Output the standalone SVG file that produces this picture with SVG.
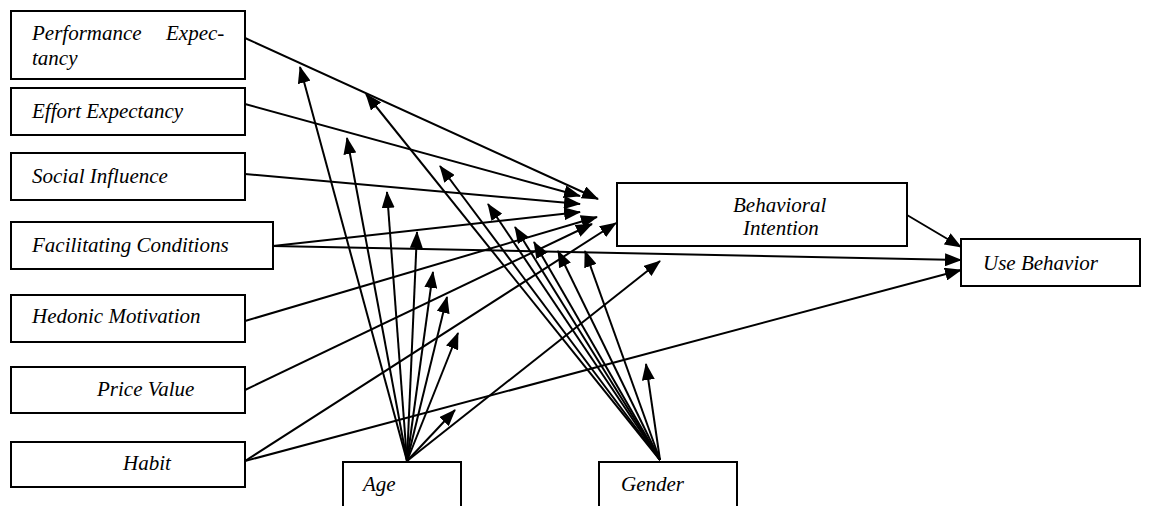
<svg xmlns="http://www.w3.org/2000/svg" width="1151" height="506" viewBox="0 0 1151 506">
<style>
.box{fill:#fff;stroke:#000;stroke-width:2}
text{font-family:'Liberation Serif','DejaVu Serif','Times New Roman',serif;font-style:italic;font-size:21px;fill:#000}
.a{stroke:#000;stroke-width:2;fill:none;marker-end:url(#ah)}
</style>
<defs>
<marker id="ah" markerUnits="userSpaceOnUse" markerWidth="17" markerHeight="13" viewBox="0 0 17 13" refX="16" refY="6.5" orient="auto">
<path d="M0,0 L17,6.5 L0,13 z" fill="#000"/>
</marker>
</defs>
<rect width="1151" height="506" fill="#fff"/>
<g id="n-pe"><rect class="box" x="11" y="11" width="234" height="68"/><text x="32" y="40">Performance</text><text x="166" y="40">Expec-</text><text x="32" y="65">tancy</text></g>
<g id="n-ee"><rect class="box" x="11" y="88" width="234" height="47"/><text x="32" y="118">Effort Expectancy</text></g>
<g id="n-si"><rect class="box" x="11" y="153" width="234" height="47"/><text x="32" y="183">Social Influence</text></g>
<g id="n-fc"><rect class="box" x="11" y="222" width="262" height="47"/><text x="32" y="252">Facilitating Conditions</text></g>
<g id="n-hm"><rect class="box" x="11" y="295" width="234" height="47"/><text x="32" y="323">Hedonic Motivation</text></g>
<g id="n-pv"><rect class="box" x="11" y="367" width="234" height="46"/><text x="97" y="396">Price Value</text></g>
<g id="n-hb"><rect class="box" x="11" y="442" width="234" height="45"/><text x="123" y="470">Habit</text></g>
<g id="n-bi"><rect class="box" x="617" y="183" width="290" height="63"/><text x="733" y="212">Behavioral</text><text x="743" y="235">Intention</text></g>
<g id="n-ub"><rect class="box" x="961" y="239" width="179" height="47"/><text x="983" y="270">Use Behavior</text></g>
<g id="n-age"><rect class="box" x="343" y="462" width="118" height="60"/><text x="363" y="491">Age</text></g>
<g id="n-gender"><rect class="box" x="599" y="462" width="138" height="60"/><text x="621" y="491">Gender</text></g>
<g id="connectors">
<line class="a" x1="245" y1="38" x2="598" y2="199"/>
<line class="a" x1="245" y1="104" x2="580" y2="196"/>
<line class="a" x1="245" y1="174" x2="580" y2="204"/>
<line class="a" x1="273" y1="246" x2="580" y2="212"/>
<line class="a" x1="273" y1="246" x2="961" y2="260"/>
<line class="a" x1="245" y1="321" x2="597" y2="217"/>
<line class="a" x1="245" y1="390" x2="592" y2="224"/>
<line class="a" x1="245" y1="461" x2="616" y2="223"/>
<line class="a" x1="245" y1="461" x2="961" y2="270"/>
<line class="a" x1="907" y1="215" x2="961" y2="247"/>
<line class="a" x1="407" y1="461" x2="300" y2="67"/>
<line class="a" x1="407" y1="461" x2="347" y2="138"/>
<line class="a" x1="407" y1="461" x2="387" y2="192"/>
<line class="a" x1="407" y1="461" x2="417" y2="232"/>
<line class="a" x1="407" y1="461" x2="433" y2="272"/>
<line class="a" x1="407" y1="461" x2="447" y2="297"/>
<line class="a" x1="407" y1="461" x2="458" y2="333"/>
<line class="a" x1="407" y1="461" x2="455" y2="410"/>
<line class="a" x1="407" y1="461" x2="660" y2="261"/>
<line class="a" x1="660" y1="460" x2="366" y2="94"/>
<line class="a" x1="660" y1="460" x2="440" y2="166"/>
<line class="a" x1="660" y1="460" x2="488" y2="204"/>
<line class="a" x1="660" y1="460" x2="515" y2="227"/>
<line class="a" x1="660" y1="460" x2="534" y2="242"/>
<line class="a" x1="660" y1="460" x2="558" y2="251"/>
<line class="a" x1="660" y1="460" x2="585" y2="251"/>
<line class="a" x1="660" y1="460" x2="646" y2="364"/>
</g>
</svg>
